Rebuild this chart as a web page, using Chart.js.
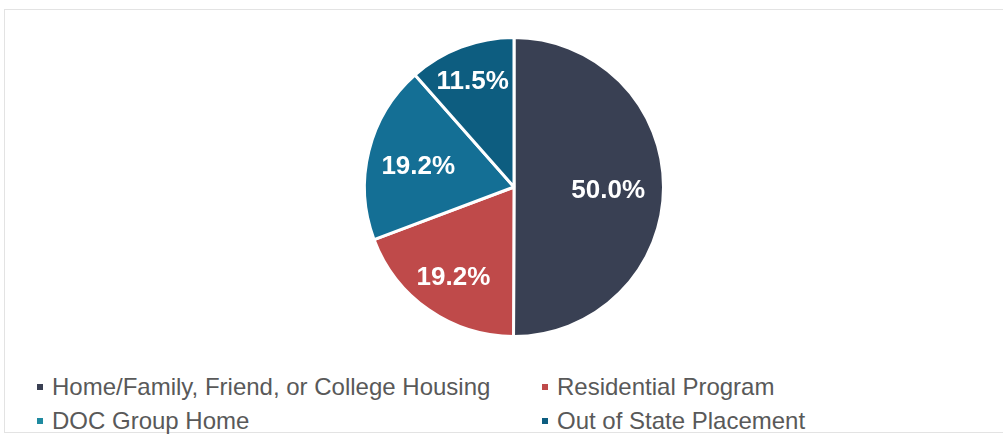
<!DOCTYPE html>
<html><head><meta charset="utf-8">
<script src="https://cdn.jsdelivr.net/npm/chart.js@4/dist/chart.umd.min.js"></script>
<style>
html,body{margin:0;padding:0;background:#fff;width:1003px;height:438px;overflow:hidden;font-family:"Liberation Sans",Arial,sans-serif;}
#frame{position:absolute;left:4px;top:9px;width:1010px;height:424px;border:1px solid #e3e3e3;box-sizing:border-box;}
#wrap{position:absolute;left:0;top:0;width:1003px;height:340px;}
#legend{position:absolute;left:0;top:375px;width:1003px;}
.item{position:absolute;font-size:24px;color:#595959;white-space:nowrap;line-height:24px;}
.item .sw{position:absolute;left:-15px;top:9px;width:6px;height:6px;}
</style></head>
<body>
<div id="frame"></div>
<div id="wrap"><canvas id="c"></canvas></div>
<div id="legend"></div>
<script>
const categories = ["Home/Family, Friend, or College Housing","Residential Program","DOC Group Home","Out of State Placement"];
const values = [50.0, 19.2, 19.2, 11.5];
const sliceColors = ["#394053","#bf4a4a","#146f95","#0d5d80"];
const legendColors = ["#394053","#bf4a4a","#1f8aa0","#0d5d80"];
// label placement (fraction of radius, style only)
const labelRadiusFactor = [0.63, 0.71, 0.66, 0.78];

const labelPlugin = {
  id:'sliceLabels',
  afterDatasetsDraw(chart){
    const ctx = chart.ctx;
    const meta = chart.getDatasetMeta(0);
    ctx.save();
    ctx.font = 'bold 26px "Liberation Sans", Arial, sans-serif';
    ctx.fillStyle = '#ffffff';
    ctx.textAlign = 'center';
    ctx.textBaseline = 'middle';
    meta.data.forEach((arc,i)=>{
      const p = arc.getProps(['x','y','startAngle','endAngle','outerRadius'],true);
      const mid = (p.startAngle+p.endAngle)/2;
      const r = p.outerRadius*labelRadiusFactor[i];
      ctx.fillText(values[i].toFixed(1)+'%', p.x+Math.cos(mid)*r, p.y+Math.sin(mid)*r+4);
    });
    ctx.restore();
  }
};

new Chart(document.getElementById('c'),{
  type:'pie',
  data:{labels:categories,datasets:[{data:values,backgroundColor:sliceColors,borderColor:'#ffffff',borderWidth:3}]},
  options:{
    responsive:true,maintainAspectRatio:false,animation:false,
    layout:{padding:{left:25,right:0,top:36,bottom:2}},
    plugins:{legend:{display:false},tooltip:{enabled:false}}
  },
  plugins:[labelPlugin]
});

const pos = [[52,0],[557,0],[52,34],[557,34]];
const lg = document.getElementById('legend');
categories.forEach((c,i)=>{
  const d = document.createElement('div');
  d.className='item';
  d.style.left = pos[i][0]+'px';
  d.style.top = pos[i][1]+'px';
  d.innerHTML = '<span class="sw" style="background:'+legendColors[i]+'"></span>'+c;
  lg.appendChild(d);
});
</script>
</body></html>
